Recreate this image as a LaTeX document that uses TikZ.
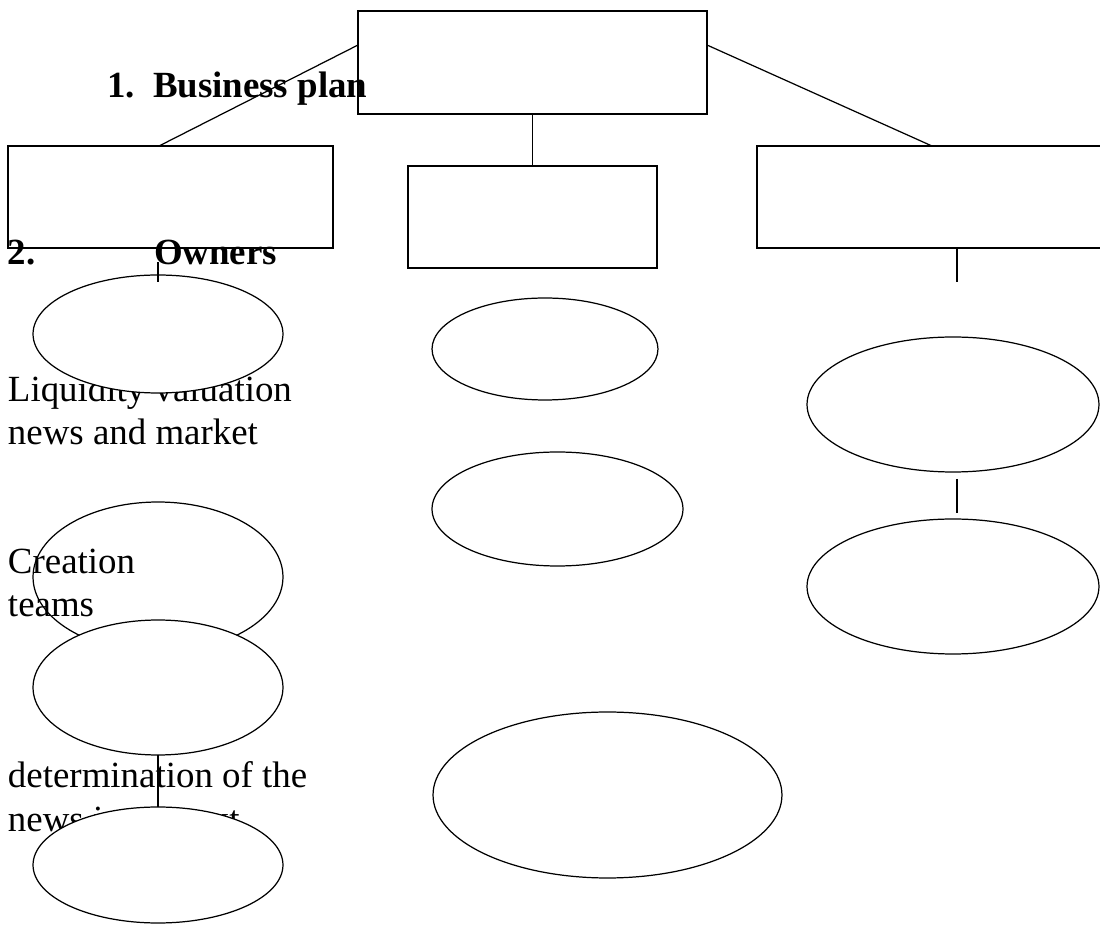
\documentclass[tikz,border=0pt]{standalone}
\usepackage{fontspec}
\setmainfont{Liberation Serif}
\usetikzlibrary{shapes}
\usetikzlibrary{positioning}

\begin{document}
\begin{tikzpicture}[x=0.02cm,y=-0.02cm,line width=0.7pt,
  box/.style={draw,rectangle,inner sep=0pt,outer sep=0pt},
  oval/.style={draw,ellipse,fill=white,inner sep=0pt,outer sep=0pt},
  txt/.style={anchor=base west,inner sep=0pt,outer sep=0pt,font=\fontsize{21}{24}\selectfont},
  head/.style={txt,font=\fontsize{21}{24}\selectfont\bfseries}]
  \useasboundingbox (0,0) rectangle (1100,925);
  \clip (0,0) rectangle (1100,925);

  \node[box,minimum width=6.98cm,minimum height=2.06cm] (topbox) at (532.5,62.5) {};
  \node[box,minimum width=6.5cm,minimum height=2.04cm] (leftbox) at (170.5,197) {};
  \node[box,minimum width=4.98cm,minimum height=2.04cm] (midbox) at (532.5,217) {};
  \node[box,minimum width=7.06cm,minimum height=2.04cm] (rightbox) at (933.5,197) {};
  \draw ([yshift=-0.68cm]topbox.north west) -- ([xshift=3.02cm]leftbox.north west);
  \draw ([yshift=-0.68cm]topbox.north east) -- ([xshift=3.5cm]rightbox.north west);
  \draw (topbox.south) -- (midbox.north);

  \node[head] (num1) at (107,98) {1.};
  \node[head] (plan) at (153,98) {Business plan};
  \node[head] (num2) at (8,265) {2.};
  \node[head] (owners) at (154,265) {Owners};

  \node[txt] (liq1) at (8,402) {Liquidity valuation};
  \node[txt] (liq2) at (8,445) {news and market};
  \node[oval,minimum width=5cm,minimum height=2.36cm] (ovl1) at (158,334) {};
  \coordinate (tickla) at (158,262);
  \coordinate (ticklb) at (158,282);
  \draw (tickla) -- (ticklb);

  \node[oval,minimum width=4.52cm,minimum height=2.04cm] (ovm1) at (545,349) {};
  \node[oval,minimum width=5.02cm,minimum height=2.28cm] (ovm2) at (557.5,509) {};
  \node[oval,minimum width=6.98cm,minimum height=3.32cm] (ovm3) at (607.5,795) {};

  \node[oval,minimum width=5.84cm,minimum height=2.7cm] (ovr1) at (953,404.5) {};
  \node[oval,minimum width=5.84cm,minimum height=2.7cm] (ovr2) at (953,586.5) {};
  \coordinate (tickr) at (957,282);
  \draw (rightbox.south -| tickr) -- (tickr);
  \coordinate (tickra) at (957,479);
  \coordinate (tickrb) at (957,513);
  \draw (tickra) -- (tickrb);

  \node[oval,minimum width=5cm,minimum height=3cm] (ovl2) at (158,577) {};
  \node[txt] (cre1) at (8,574) {Creation};
  \node[txt] (cre2) at (8,617) {teams};
  \node[oval,minimum width=5cm,minimum height=2.7cm] (ovl3) at (158,687.5) {};

  \node[txt] (det1) at (8,788) {determination of the};
  \node[txt] (det2) at (8,832) {news in context};
  \node[oval,minimum width=5cm,minimum height=2.32cm] (ovl4) at (158,865) {};
  \draw (ovl3.south) -- (ovl4.north);
\end{tikzpicture}
\end{document}
